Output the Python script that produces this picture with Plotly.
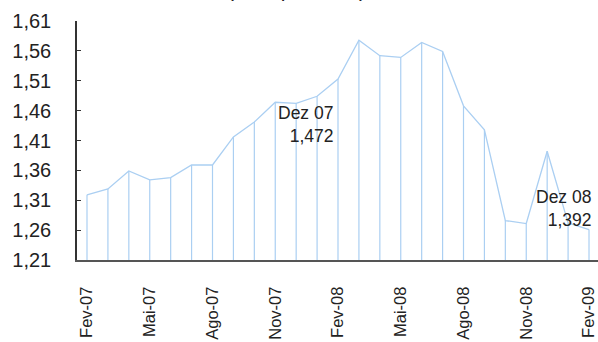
import plotly.graph_objects as go

# Monthly euro exchange rate, end of month (US$ per euro)
months = ["Fev-07", "Mar-07", "Abr-07", "Mai-07", "Jun-07", "Jul-07", "Ago-07",
          "Set-07", "Out-07", "Nov-07", "Dez-07", "Jan-08", "Fev-08", "Mar-08",
          "Abr-08", "Mai-08", "Jun-08", "Jul-08", "Ago-08", "Set-08", "Out-08",
          "Nov-08", "Dez-08", "Jan-09", "Fev-09"]
rates = [1.319, 1.329, 1.359, 1.344, 1.348, 1.369, 1.369,
         1.416, 1.441, 1.474, 1.472, 1.484, 1.513, 1.578,
         1.552, 1.549, 1.574, 1.559, 1.468, 1.428, 1.276,
         1.271, 1.392, 1.272, 1.261]
tick_months = ["Fev-07", "Mai-07", "Ago-07", "Nov-07", "Fev-08",
               "Mai-08", "Ago-08", "Nov-08", "Fev-09"]
y_ticks = [1.21, 1.26, 1.31, 1.36, 1.41, 1.46, 1.51, 1.56, 1.61]
highlights = {"Dez-07": "Dez 07", "Dez-08": "Dez 08"}
title_text = "(US$ por euro)"

y_base = y_ticks[0]
line_color = "#abcff2"
font_family = "Liberation Sans, Arial, sans-serif"

fig = go.Figure()
fig.add_trace(go.Scatter(
    x=months, y=rates, mode="lines",
    line=dict(color=line_color, width=1.3),
    error_y=dict(type="data", symmetric=False,
                 array=[0] * len(rates),
                 arrayminus=[r - y_base for r in rates],
                 color=line_color, thickness=1.2, width=0),
    hoverinfo="skip", showlegend=False,
))

# value labels for December points
shifts = {"Dez-07": (39, 2), "Dez-08": (46, -34)}
for key, name in highlights.items():
    v = rates[months.index(key)]
    dx, dy = shifts[key]
    fig.add_annotation(
        x=key, y=v, xref="x", yref="y",
        text=f"{name}<br>{v:.3f}".replace(".", ","),
        showarrow=False, xanchor="right", yanchor="top", align="right",
        xshift=dx, yshift=dy,
        font=dict(family=font_family, size=17.5, color="#222222"),
    )

fig.add_annotation(
    x=0.4213, y=1.074, xref="paper", yref="paper",
    text=title_text, showarrow=False, xanchor="center", yanchor="bottom",
    font=dict(family=font_family, size=21, color="#222222"),
)

n = len(months)
fig.update_xaxes(
    type="category", range=[-0.478, n - 1 + 0.43],
    tickmode="array", tickvals=tick_months, ticktext=tick_months,
    tickangle=-90, ticks="", ticklabelstandoff=18,
    tickfont=dict(family=font_family, size=16.5, color="#222222"),
    showline=True, linecolor="#555555", linewidth=2,
    showgrid=False, zeroline=False,
)
fig.update_yaxes(
    range=[y_ticks[0], y_ticks[-1]], tickmode="array", tickvals=y_ticks,
    tickformat=".2f", ticks="inside", ticklen=4, tickcolor="#333333",
    ticklabelstandoff=20,
    tickfont=dict(family=font_family, size=20, color="#222222"),
    showline=True, linecolor="#333333", linewidth=1.5,
    showgrid=False, zeroline=False,
)
fig.update_layout(
    width=598, height=342,
    margin=dict(l=77, r=0, t=21, b=82),
    paper_bgcolor="white", plot_bgcolor="white",
    separators=",.",
)
fig.write_html("out.html")
